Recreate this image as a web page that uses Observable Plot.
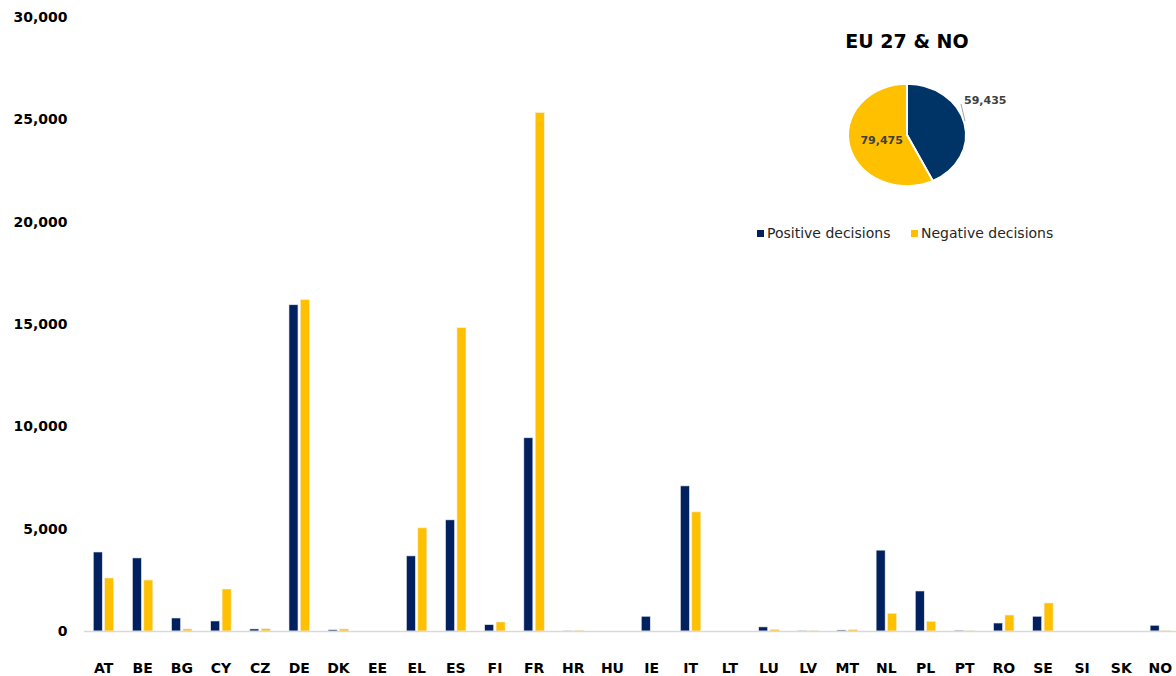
<!DOCTYPE html>
<html>
<head>
<meta charset="utf-8">
<script src="https://cdn.jsdelivr.net/npm/d3@7"></script>
<script src="https://cdn.jsdelivr.net/npm/@observablehq/plot@0.6"></script>
<style>
  html, body { margin: 0; padding: 0; background: #fff; }
  #chart { width: 1176px; height: 676px; }
</style>
</head>
<body>
<div id="chart"></div>
<script>
const countries = ["AT","BE","BG","CY","CZ","DE","DK","EE","EL","ES","FI","FR","HR","HU","IE","IT","LT","LU","LV","MT","NL","PL","PT","RO","SE","SI","SK","NO"];
const positive = [3860,3570,635,490,100,15940,60,0,3670,5430,310,9440,20,0,720,7090,0,200,30,50,3950,1955,40,390,720,0,0,280];
const negative = [2590,2490,100,2050,110,16190,100,0,5040,14820,440,25330,40,0,0,5820,0,80,20,70,865,475,20,780,1370,0,0,20];
const seriesNames = ["Positive decisions","Negative decisions"];
const pieValues = [59435, 79475];
const pieTitle = "EU 27 & NO";
const yTicks = [0,5000,10000,15000,20000,25000,30000];

const barColors = ["#002060", "#ffc000"];
const pieColors = ["#003366", "#ffc000"];

const posData = countries.map((c, i) => ({country: c, value: positive[i]}));
const negData = countries.map((c, i) => ({country: c, value: negative[i]}));

const W = 1176, H = 676;
const xRange = [83.5, 1179.5];
const step = (xRange[1] - xRange[0]) / countries.length;
const half = step / 2;

function overlay() {
  const g = d3.create("svg:g").attr("text-anchor", "start");
  // Title
  g.append("text")
    .attr("x", 907).attr("y", 48)
    .attr("text-anchor", "middle")
    .attr("font-family", "DejaVu Sans")
    .attr("font-weight", "bold")
    .attr("font-size", 19)
    .attr("fill", "#000")
    .text(pieTitle);
  // Pie
  const pie = d3.pie().sort(null).value(d => d)(pieValues);
  const R = 59;
  const arc = d3.arc().innerRadius(0).outerRadius(R);
  const pg = g.append("g").attr("transform", "translate(907,135) scale(1,0.865)");
  pg.selectAll("path").data(pie).join("path")
    .attr("d", arc)
    .attr("fill", (d, i) => pieColors[i])
    .attr("stroke", "#fff")
    .attr("stroke-width", 2);
  // inner label for negative slice
  const labelArc = d3.arc().innerRadius(26).outerRadius(26);
  const c1 = labelArc.centroid(pie[1]);
  g.append("text")
    .attr("x", 907 + c1[0]).attr("y", 135 + c1[1] * 0.865 + 4)
    .attr("text-anchor", "middle")
    .attr("font-family", "DejaVu Sans").attr("font-weight", "bold")
    .attr("font-size", 11).attr("fill", "#404040")
    .text(d3.format(",")(pieValues[1]));
  // outside label for positive slice with leader line
  g.append("line")
    .attr("x1", 965).attr("y1", 121).attr("x2", 961).attr("y2", 104)
    .attr("stroke", "#a6a6a6").attr("stroke-width", 1);
  g.append("text")
    .attr("x", 964).attr("y", 104)
    .attr("text-anchor", "start")
    .attr("font-family", "DejaVu Sans").attr("font-weight", "bold")
    .attr("font-size", 11).attr("fill", "#404040")
    .text(d3.format(",")(pieValues[0]));
  // Legend
  const legendX = [757, 911];
  seriesNames.forEach((name, i) => {
    g.append("rect")
      .attr("x", legendX[i]).attr("y", 230)
      .attr("width", 7).attr("height", 7)
      .attr("fill", barColors[i]);
    g.append("text")
      .attr("x", legendX[i] + 10).attr("y", 238)
      .attr("text-anchor", "start")
      .attr("font-family", "DejaVu Sans")
      .attr("font-size", 14).attr("fill", "#262626")
      .text(name);
  });
  return g.node();
}

const plot = Plot.plot({
  width: W,
  height: H,
  marginLeft: 84,
  marginRight: 0,
  marginTop: 17,
  marginBottom: 45,
  style: {fontFamily: "DejaVu Sans", background: "#fff", overflow: "visible"},
  x: {domain: countries, range: xRange, padding: 0, round: false, label: null},
  y: {domain: [0, 30000], label: null},
  marks: [
    Plot.barY(posData, {x: "country", y: "value", fill: barColors[0], insetLeft: half - 9.8, insetRight: half + 0.8, stroke: "#e8e8ee", strokeWidth: 0.6}),
    Plot.barY(negData, {x: "country", y: "value", fill: barColors[1], insetLeft: half + 1.6, insetRight: half - 10.6, stroke: "#f4ecd8", strokeWidth: 0.6}),
    Plot.ruleY([0], {stroke: "#d9d9d9", strokeWidth: 1.5}),
    Plot.axisY({ticks: yTicks, tickFormat: d3.format(","), tickSize: 0, tickPadding: 17, fontSize: 14, fontWeight: "bold", fill: "#000", label: null}),
    Plot.axisX({tickSize: 0, tickPadding: 32, fontSize: 14, fontWeight: "bold", fill: "#000", label: null}),
    overlay
  ]
});

document.getElementById("chart").appendChild(plot);
</script>
</body>
</html>
